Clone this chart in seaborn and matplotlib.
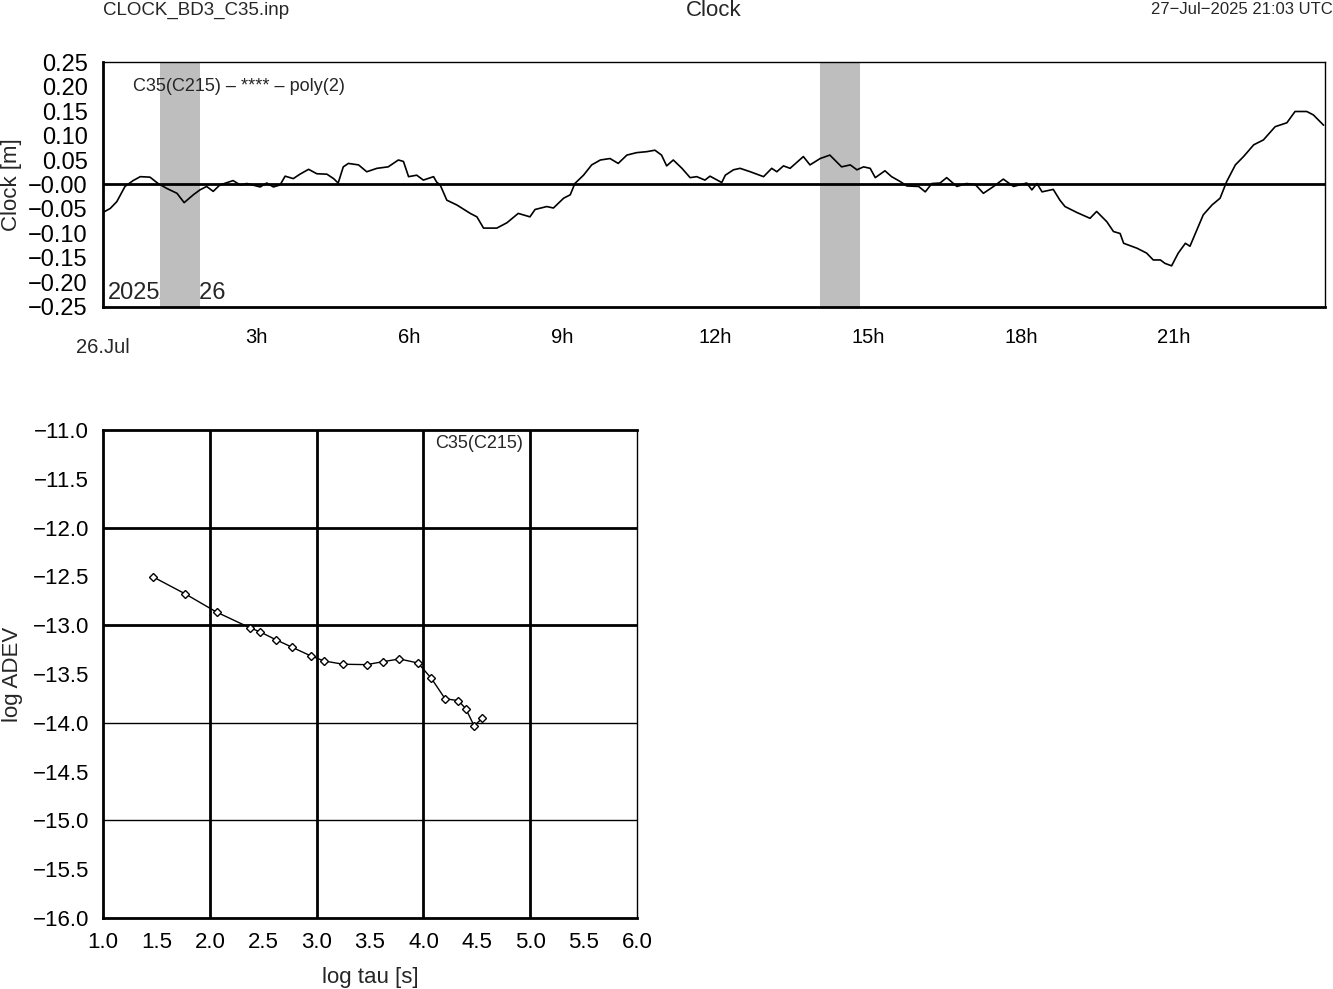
import numpy as np
import pandas as pd
import seaborn as sns
import matplotlib
matplotlib.use("Agg")
import matplotlib.pyplot as plt

# clock residuals (hours since 26.Jul 00:00, metres)
clock_hours = [0.00, 0.14, 0.27, 0.43, 0.59, 0.73, 0.92, 1.08, 1.25, 1.45, 1.59, 1.77, 1.90,
               2.03, 2.16, 2.29, 2.55, 2.69, 2.82, 3.08, 3.21, 3.34, 3.47, 3.57, 3.73, 3.86,
               4.03, 4.19, 4.39, 4.52, 4.61, 4.71, 4.81, 5.01, 5.17, 5.37, 5.59, 5.79, 5.89,
               5.99, 6.15, 6.28, 6.48, 6.54, 6.61, 6.74, 6.94, 7.20, 7.33, 7.46, 7.72, 7.92,
               8.14, 8.37, 8.47, 8.70, 8.83, 9.03, 9.16, 9.25, 9.42, 9.58, 9.75, 9.94, 10.10,
               10.27, 10.46, 10.66, 10.82, 10.95, 11.05, 11.18, 11.35, 11.51, 11.64, 11.80,
               11.90, 12.13, 12.20, 12.36, 12.49, 12.69, 12.95, 13.11, 13.21, 13.34, 13.47,
               13.73, 13.86, 14.06, 14.25, 14.48, 14.65, 14.78, 14.91, 15.04, 15.14, 15.33,
               15.46, 15.63, 15.76, 15.99, 16.12, 16.25, 16.41, 16.54, 16.74, 16.93, 17.10,
               17.26, 17.46, 17.65, 17.85, 18.11, 18.21, 18.31, 18.41, 18.63, 18.76, 18.86,
               19.09, 19.35, 19.48, 19.68, 19.81, 19.94, 20.01, 20.27, 20.46, 20.59, 20.73,
               20.82, 20.95, 21.08, 21.22, 21.31, 21.57, 21.74, 21.90, 22.03, 22.20, 22.36,
               22.56, 22.75, 22.98, 23.21, 23.37, 23.60, 23.73, 23.93]
clock_m = [-0.057, -0.049, -0.035, -0.004, 0.008, 0.016, 0.015, 0.002, -0.008, -0.018, -0.037,
           -0.021, -0.011, -0.004, -0.014, -0.001, 0.008, -0.001, 0.002, -0.005, 0.003, -0.005,
           -0.001, 0.017, 0.012, 0.021, 0.031, 0.022, 0.021, 0.012, 0.003, 0.036, 0.043, 0.040,
           0.026, 0.033, 0.036, 0.050, 0.047, 0.016, 0.019, 0.009, 0.016, 0.005, -0.001, -0.032,
           -0.042, -0.059, -0.066, -0.089, -0.089, -0.078, -0.059, -0.066, -0.051, -0.045,
           -0.048, -0.028, -0.021, 0.002, 0.019, 0.040, 0.050, 0.053, 0.043, 0.060, 0.065,
           0.067, 0.070, 0.060, 0.038, 0.050, 0.033, 0.014, 0.016, 0.009, 0.017, 0.004, 0.019,
           0.030, 0.033, 0.026, 0.016, 0.033, 0.026, 0.038, 0.033, 0.057, 0.040, 0.053, 0.060,
           0.036, 0.040, 0.030, 0.036, 0.033, 0.014, 0.028, 0.016, 0.006, -0.003, -0.004,
           -0.015, 0.002, 0.003, 0.014, -0.004, 0.002, 0.000, -0.018, -0.004, 0.011, -0.004,
           0.003, -0.011, 0.002, -0.015, -0.010, -0.032, -0.045, -0.057, -0.069, -0.055, -0.076,
           -0.096, -0.100, -0.120, -0.130, -0.140, -0.154, -0.154, -0.161, -0.166, -0.140,
           -0.120, -0.126, -0.062, -0.042, -0.028, 0.006, 0.040, 0.057, 0.081, 0.091, 0.118,
           0.126, 0.149, 0.149, 0.142, 0.121]

# gray data-gap bands (hours)
gap_start = [1.12, 14.06]
gap_end = [1.90, 14.84]

clock_yticks = [0.25, 0.20, 0.15, 0.10, 0.05, 0.0, -0.05, -0.10, -0.15, -0.20, -0.25]
clock_ylabels = ['0.25', '0.20', '0.15', '0.10', '0.05', '−0.00', '−0.05', '−0.10',
                 '−0.15', '−0.20', '−0.25']
hour_labels = ['3h', '6h', '9h', '12h', '15h', '18h', '21h']

# Allan deviation
log_tau = [1.465, 1.771, 2.067, 2.373, 2.473, 2.617, 2.773, 2.948, 3.072, 3.250,
           3.469, 3.619, 3.775, 3.949, 4.074, 4.202, 4.327, 4.396, 4.474, 4.552]
log_adev = [-12.503, -12.680, -12.868, -13.025, -13.070, -13.148, -13.227, -13.316,
            -13.367, -13.400, -13.404, -13.374, -13.346, -13.387, -13.544, -13.753,
            -13.773, -13.855, -14.030, -13.954]

sns.set_theme(style='white')
plt.rcParams['font.family'] = ['Liberation Sans', 'DejaVu Sans']
plt.rcParams['axes.edgecolor'] = 'black'

fig = plt.figure(figsize=(13.33, 9.89), dpi=100)

# ---------------- top: clock ----------------
ax = fig.add_axes([0.0773, 0.6896, 0.9168, 0.2477])
df_clk = pd.DataFrame({'hour': clock_hours, 'clk': clock_m})
for s, e in zip(gap_start, gap_end):
    ax.axvspan(s, e, color='#bebebe', lw=0, zorder=1)
ax.axhline(0, color='black', lw=2, zorder=2)
sns.lineplot(data=df_clk, x='hour', y='clk', ax=ax, color='black', lw=1.2, zorder=3)
ax.set_xlim(0, 23.96)
ax.set_ylim(-0.25, 0.25)
ax.set_yticks(clock_yticks)
ax.set_yticklabels(clock_ylabels, fontsize=17)
ax.set_xticks(range(0, 24))
xl = [''] * 24
for i, lab in enumerate(hour_labels):
    xl[3 * (i + 1)] = lab
ax.set_xticklabels(xl, fontsize=14.5)
ax.tick_params(axis='x', direction='out', length=11, width=1.5, pad=4, colors='black')
ax.tick_params(axis='y', direction='in', length=12, width=1.5, pad=11, colors='black')
ax.set_xlabel('')
ax.set_ylabel('Clock [m]', fontsize=16)
ax.yaxis.set_label_coords(-0.066, 0.5)
for side in ['left', 'bottom']:
    ax.spines[side].set_linewidth(2)
for side in ['top', 'right']:
    ax.spines[side].set_linewidth(1)
ax.text(0, -0.165, '26.Jul', transform=ax.get_xaxis_transform(), ha='center', va='center',
        fontsize=14.5, clip_on=False)
ax.text(0.0245, 0.898, 'C35(C215) – **** – poly(2)', transform=ax.transAxes,
        ha='left', va='center', fontsize=13, zorder=4)
ax.text(0.004, 0.057, '2025/07/26', transform=ax.transAxes, ha='left', va='center',
        fontsize=17, zorder=0.5)

# ---------------- bottom: ADEV ----------------
ax2 = fig.add_axes([0.0773, 0.0718, 0.4006, 0.4934])
for gx in [2, 3, 4, 5]:
    ax2.axvline(gx, color='black', lw=2, zorder=1)
for gy, w in [(-12, 2), (-13, 2), (-14, 1), (-15, 1)]:
    ax2.axhline(gy, color='black', lw=w, zorder=1)
df_adev = pd.DataFrame({'tau': log_tau, 'adev': log_adev})
sns.lineplot(data=df_adev, x='tau', y='adev', ax=ax2, color='black', lw=1,
             marker='D', markersize=4.5, markerfacecolor='white',
             markeredgecolor='black', markeredgewidth=1, zorder=3)
ax2.set_xlim(1, 6)
ax2.set_ylim(-16, -11)
ax2.set_xticks(np.arange(1.0, 6.01, 0.5))
ax2.set_yticks(np.arange(-16.0, -10.99, 0.5))
ax2.set_xticklabels([f'{v:.1f}' for v in np.arange(1.0, 6.01, 0.5)], fontsize=16)
ax2.set_yticklabels([f'{v:.1f}'.replace('-', '−') for v in np.arange(-16.0, -10.99, 0.5)],
                    fontsize=16)
ax2.tick_params(axis='both', direction='in', length=12, width=1.5, pad=10, colors='black')
ax2.set_xlabel('log tau [s]', fontsize=16, labelpad=10)
ax2.set_ylabel('log ADEV', fontsize=16)
ax2.yaxis.set_label_coords(-0.15, 0.5)
for side in ['left', 'bottom', 'top']:
    ax2.spines[side].set_linewidth(2)
ax2.spines['right'].set_linewidth(1)
ax2.text(0.704, 0.973, 'C35(C215)', transform=ax2.transAxes, ha='center', va='center',
         fontsize=13, zorder=4)

# ---------------- header ----------------
fig.text(103 / 1333, 1 - 10 / 989, 'CLOCK_BD3_C35.inp', ha='left', va='center', fontsize=13.5)
fig.text(714 / 1333, 1 - 10 / 989, 'Clock', ha='center', va='center', fontsize=16)
fig.text(0.9995, 1 - 10 / 989, '27−Jul−2025 21:03 UTC', ha='right', va='center', fontsize=12)

fig.savefig('out.png', dpi=100)
